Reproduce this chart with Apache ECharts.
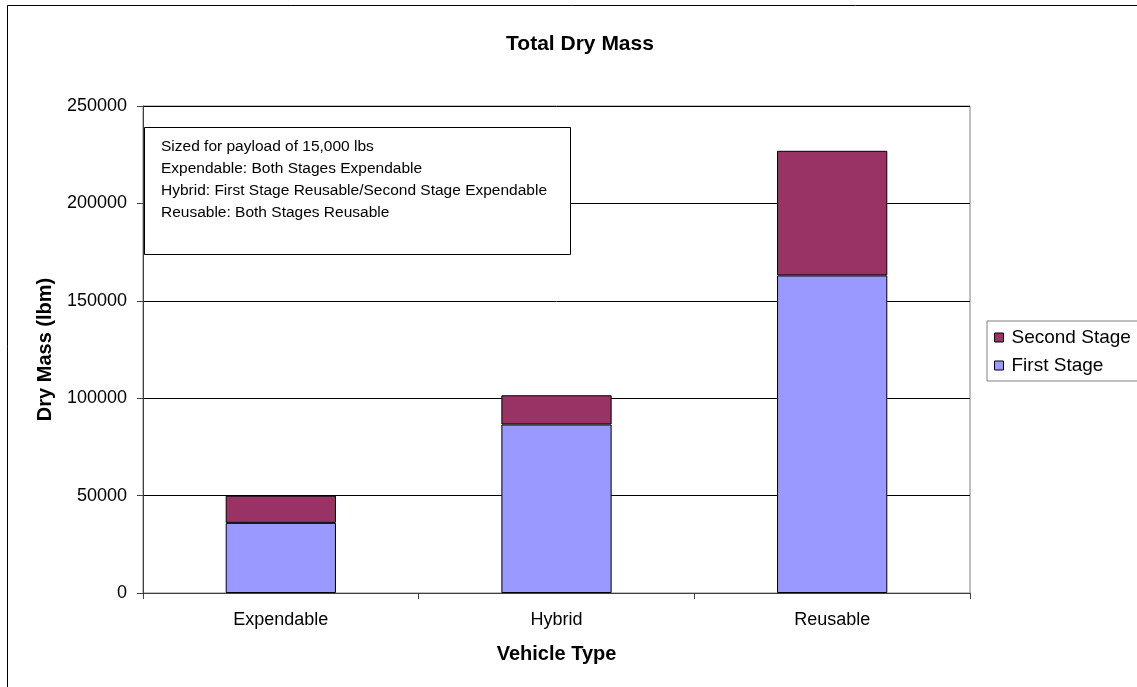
<!DOCTYPE html>
<html>
<head>
<meta charset="utf-8">
<script src="https://cdn.jsdelivr.net/npm/echarts@6/dist/echarts.min.js"></script>
<style>
  html, body { margin: 0; padding: 0; background: #fff; }
  #chart { width: 1137px; height: 687px; }
</style>
</head>
<body>
<div id="chart"></div>
<script>
const categories = ['Expendable', 'Hybrid', 'Reusable']
const firstStage = [36000, 86500, 163000]
const secondStage = [14000, 15000, 64000]
const noteLines = [
  'Sized for payload of 15,000 lbs',
  'Expendable: Both Stages Expendable',
  'Hybrid: First Stage Reusable/Second Stage Expendable',
  'Reusable: Both Stages Reusable',
]

const FONT = '"Liberation Sans", Arial, sans-serif'

const chart = echarts.init(document.getElementById('chart'))

chart.setOption({
  animation: false,
  textStyle: { fontFamily: FONT, color: '#000' },
  title: {
    text: 'Total Dry Mass',
    left: 575,
    top: 29,
    textAlign: 'center',
    textStyle: { fontFamily: FONT, fontSize: 21, fontWeight: 'bold', color: '#000' },
  },
  legend: {
    orient: 'vertical',
    left: 987,
    top: 321,
    padding: [7, 40, 6, 7],
    itemGap: 9,
    itemWidth: 9,
    itemHeight: 9,
    icon: 'rect',
    borderColor: '#808080',
    borderWidth: 1,
    backgroundColor: '#fff',
    data: ['Second Stage', 'First Stage'],
    itemStyle: { borderColor: '#000', borderWidth: 1 },
    textStyle: { fontFamily: FONT, fontSize: 19, color: '#000', padding: [0, 0, 0, 3] },
  },
  grid: {
    left: 143,
    right: 167,
    top: 106,
    bottom: 94,
    show: true,
    borderColor: '#808080',
    borderWidth: 1,
  },
  xAxis: {
    type: 'category',
    data: categories,
    name: 'Vehicle Type',
    nameLocation: 'middle',
    nameGap: 51,
    nameTextStyle: { fontFamily: FONT, fontSize: 20, fontWeight: 'bold', color: '#000' },
    axisLine: { lineStyle: { color: '#404040', width: 1 } },
    axisTick: { show: true, length: 6, lineStyle: { color: '#404040' } },
    axisLabel: { fontFamily: FONT, fontSize: 18, color: '#000', margin: 18 },
  },
  yAxis: {
    type: 'value',
    min: 0,
    max: 250000,
    interval: 50000,
    name: 'Dry Mass (lbm)',
    nameLocation: 'middle',
    nameGap: 88,
    nameTextStyle: { fontFamily: FONT, fontSize: 20, fontWeight: 'bold', color: '#000' },
    axisLine: { show: true, lineStyle: { color: '#404040', width: 1 } },
    axisTick: { show: true, length: 6, lineStyle: { color: '#404040' } },
    axisLabel: { fontFamily: FONT, fontSize: 18, color: '#000', margin: 16, formatter: (v) => String(v) },
    splitLine: { lineStyle: { color: '#000', width: 1 } },
  },
  series: [
    {
      name: 'First Stage',
      type: 'bar',
      stack: 'mass',
      barCategoryGap: '60%',
      data: firstStage,
      itemStyle: { color: '#9999FF', borderColor: '#000', borderWidth: 1 },
    },
    {
      name: 'Second Stage',
      type: 'bar',
      stack: 'mass',
      data: secondStage,
      itemStyle: { color: '#993366', borderColor: '#000', borderWidth: 1 },
    },
  ],
  graphic: [
    {
      type: 'rect',
      shape: { x: 7.5, y: 5.5, width: 1200, height: 800 },
      style: { fill: 'none', stroke: '#000', lineWidth: 1 },
      silent: true,
    },
    {
      type: 'rect',
      shape: { x: 144.5, y: 127.5, width: 426, height: 127 },
      style: { fill: '#fff', stroke: '#000', lineWidth: 1 },
      z: 10,
    },
    {
      type: 'text',
      x: 161,
      y: 136,
      z: 11,
      style: {
        text: noteLines.join('\n'),
        font: '15.5px ' + FONT,
        lineHeight: 21.8,
        fill: '#000',
      },
    },
  ],
})
</script>
</body>
</html>
